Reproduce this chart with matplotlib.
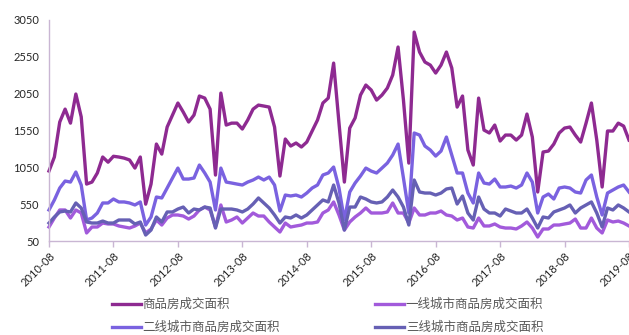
import numpy as np
import matplotlib
matplotlib.use("Agg")
import matplotlib.pyplot as plt

# 月度成交面积（万平方米），2010-08 至 2019-08
total = [1000, 1190, 1665, 1840, 1650, 2045, 1735, 823, 850, 973,
         1190, 1120, 1200, 1190, 1175, 1150, 1040, 1190, 550, 823,
         1366, 1230, 1597, 1760, 1923, 1800, 1665, 1760, 2018, 1990,
         1840, 945, 2058, 1624, 1650, 1650, 1570, 1692, 1840, 1895,
         1882, 1868, 1597, 932, 1434, 1339, 1380, 1326, 1393, 1543,
         1692, 1923, 1990, 2465, 1650, 850, 1583, 1720, 2031, 2167,
         2099, 1963, 2031, 2126, 2303, 2683, 1963, 1108, 2886, 2615,
         2479, 2438, 2330, 2438, 2615, 2398, 1868, 2018, 1285, 1081,
         1990, 1556, 1516, 1624, 1407, 1488, 1488, 1420, 1488, 1773,
         1461, 715, 1258, 1271, 1366, 1516, 1583, 1597, 1488, 1393,
         1650, 1923, 1420, 783, 1543, 1543, 1650, 1610, 1420]
tier1 = [240, 362, 471, 471, 362, 471, 430, 159, 240, 240,
         294, 281, 281, 254, 240, 226, 254, 294, 159, 213,
         335, 267, 362, 403, 403, 389, 348, 389, 471, 511,
         471, 240, 539, 308, 335, 376, 294, 362, 430, 389,
         389, 308, 240, 172, 294, 240, 254, 267, 294, 294,
         308, 430, 471, 580, 403, 199, 308, 376, 430, 498,
         430, 430, 430, 444, 566, 430, 430, 294, 498, 403,
         403, 430, 430, 457, 403, 389, 335, 362, 240, 226,
         362, 254, 254, 281, 240, 226, 226, 213, 254, 308,
         226, 104, 213, 213, 267, 267, 281, 294, 348, 226,
         226, 362, 226, 159, 335, 308, 321, 294, 254]
tier2 = [471, 607, 769, 864, 850, 986, 810, 335, 362, 430,
         566, 566, 620, 580, 580, 566, 539, 580, 267, 376,
         647, 634, 769, 905, 1040, 891, 891, 905, 1081, 973,
         850, 471, 1040, 850, 837, 823, 810, 850, 878, 918,
         878, 918, 810, 457, 674, 661, 674, 647, 701, 769,
         810, 946, 973, 1054, 769, 335, 715, 837, 932, 1040,
         999, 973, 1040, 1108, 1217, 1366, 905, 430, 1516, 1488,
         1339, 1285, 1203, 1271, 1461, 1217, 973, 973, 701, 566,
         973, 837, 823, 891, 783, 783, 796, 769, 810, 973,
         850, 430, 647, 688, 620, 769, 783, 769, 715, 701,
         878, 946, 647, 403, 701, 742, 783, 810, 715]
tier3 = [294, 376, 444, 457, 444, 566, 498, 308, 294, 294,
         321, 294, 294, 335, 335, 335, 281, 308, 131, 199,
         376, 308, 444, 444, 484, 511, 430, 484, 471, 511,
         498, 226, 484, 484, 484, 471, 444, 484, 552, 634,
         566, 498, 403, 294, 376, 362, 403, 362, 403, 471,
         539, 607, 580, 810, 566, 199, 511, 511, 647, 620,
         580, 566, 580, 647, 742, 647, 511, 267, 878, 715,
         701, 701, 674, 701, 756, 769, 552, 661, 430, 335,
         647, 484, 430, 430, 389, 484, 457, 430, 430, 484,
         362, 226, 376, 362, 444, 471, 498, 539, 430, 498,
         539, 580, 430, 240, 498, 471, 539, 498, 444]

tick_labels = ["2010-08", "2011-08", "2012-08", "2013-08", "2014-08",
               "2015-08", "2016-08", "2017-08", "2018-08", "2019-08"]
names = ["商品房成交面积", "一线城市商品房成交面积",
         "二线城市商品房成交面积", "三线城市商品房成交面积"]
colors = ["#8E2A91", "#A25ADB", "#7A62E0", "#6660B4"]

plt.rcParams["font.family"] = ["Noto Sans CJK SC", "DejaVu Sans"]

fig = plt.figure(figsize=(6.29, 3.35), dpi=100)
ax = fig.add_axes([49 / 629, 1 - 241 / 335, 580 / 629, 221 / 335])

x = np.arange(len(total))
lines = []
for series, name, c in zip([total, tier1, tier2, tier3], names, colors):
    ln, = ax.plot(x, series, color=c, lw=2.4, label=name,
                  solid_joinstyle="round", clip_on=False)
    lines.append(ln)

ax.set_xlim(0, len(total) - 1)
ax.set_ylim(50, 3050)
ax.set_yticks(np.arange(50, 3051, 500))
ax.set_xticks(np.arange(0, len(total), 12))
ax.set_xticklabels(tick_labels, rotation=45, ha="right", va="top",
                   rotation_mode="anchor")

for side in ["top", "right"]:
    ax.spines[side].set_visible(False)
for side in ["left", "bottom"]:
    ax.spines[side].set_color("#C9B6D3")
    ax.spines[side].set_linewidth(1.0)

ax.tick_params(axis="y", length=0, pad=7, labelsize=8, labelcolor="#262626")
ax.tick_params(axis="x", length=4, width=1, color="#C9B6D3", pad=3,
               labelsize=8, labelcolor="#262626")
for t in ax.get_yticklabels() + ax.get_xticklabels():
    t.set_family(["Lato", "DejaVu Sans"])

# 图例：两列，按列填充
order = [lines[0], lines[2], lines[1], lines[3]]
fig.legend(order, [l.get_label() for l in order], ncol=2,
           loc="upper left", bbox_to_anchor=(112 / 629, 1 - 298 / 335),
           frameon=False, fontsize=9, handlelength=2.3, handletextpad=0.15,
           columnspacing=7.6, labelspacing=0.8, labelcolor="#595959",
           borderaxespad=0, borderpad=0)

fig.savefig("out.png", dpi=100)
